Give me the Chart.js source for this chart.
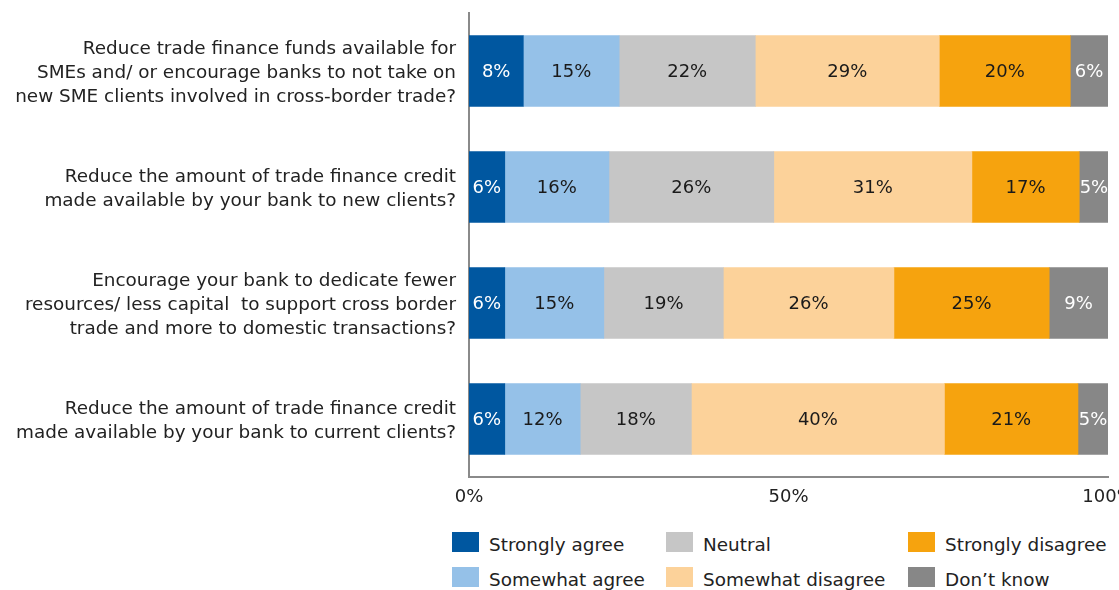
<!DOCTYPE html>
<html>
<head>
<meta charset="utf-8">
<script src="https://cdn.jsdelivr.net/npm/chart.js@4.4.1/dist/chart.umd.min.js"></script>
<style>
  html, body { margin: 0; padding: 0; background: #fff; overflow: hidden; }
  body { width: 1119px; height: 590px; position: relative; font-family: 'DejaVu Sans', sans-serif; }
  #wrap { position: absolute; left: 0; top: 0; width: 1130px; height: 520px; }
  #legend { position: absolute; left: 0; top: 0; }
  .lg-item { position: absolute; display: flex; align-items: center; font-size: 18.4px; color: #222; white-space: nowrap; height: 20px; }
  .lg-item span.txt { position: relative; top: 2px; }
  .lg-box { width: 27px; height: 20px; margin-right: 10px; }
</style>
</head>
<body>
<div id="wrap"><canvas id="chart"></canvas></div>
<div id="legend"></div>
<script>
// ============ Data ============
const questions = [
  ['Reduce trade finance funds available for', 'SMEs and/ or encourage banks to not take on', 'new SME clients involved in cross-border trade?'],
  ['Reduce the amount of trade finance credit', 'made available by your bank to new clients?'],
  ['Encourage your bank to dedicate fewer', 'resources/ less capital  to support cross border', 'trade and more to domestic transactions?'],
  ['Reduce the amount of trade finance credit', 'made available by your bank to current clients?'],
];

const answers = ['Strongly agree', 'Somewhat agree', 'Neutral', 'Somewhat disagree', 'Strongly disagree', 'Don\u2019t know'];
const answerColors = ['#0057a0', '#95c1e8', '#c6c6c6', '#fcd29a', '#f6a30e', '#878787'];
const labelColors = ['#ffffff', '#1a1a1a', '#1a1a1a', '#1a1a1a', '#1a1a1a', '#ffffff'];

// bar lengths (share of respondents, %)
const stronglyAgree    = [8.5, 5.6, 5.6, 5.6];
const somewhatAgree    = [15.0, 16.3, 15.5, 11.8];
const neutral          = [21.3, 25.8, 18.7, 17.4];
const somewhatDisagree = [28.8, 31.0, 26.7, 39.6];
const stronglyDisagree = [20.5, 16.8, 24.3, 20.9];
const dontKnow         = [5.9, 4.6, 9.2, 4.7];

// printed labels (rounded as published)
const stronglyAgreeLbl    = [8, 6, 6, 6];
const somewhatAgreeLbl    = [15, 16, 15, 12];
const neutralLbl          = [22, 26, 19, 18];
const somewhatDisagreeLbl = [29, 31, 26, 40];
const stronglyDisagreeLbl = [20, 17, 25, 21];
const dontKnowLbl         = [6, 5, 9, 5];

const xTicks = [0, 50, 100];

const seriesValues = [stronglyAgree, somewhatAgree, neutral, somewhatDisagree, stronglyDisagree, dontKnow];
const seriesLabels = [stronglyAgreeLbl, somewhatAgreeLbl, neutralLbl, somewhatDisagreeLbl, stronglyDisagreeLbl, dontKnowLbl];

const FONT = "'DejaVu Sans', sans-serif";

// ============ Plugins ============
const barLabels = {
  id: 'barLabels',
  afterDatasetsDraw(chart) {
    const ctx = chart.ctx;
    ctx.save();
    ctx.font = `18px ${FONT}`;
    ctx.textAlign = 'center';
    ctx.textBaseline = 'middle';
    chart.data.datasets.forEach((ds, di) => {
      const meta = chart.getDatasetMeta(di);
      meta.data.forEach((bar, i) => {
        const p = bar.getCenterPoint();
        ctx.fillStyle = labelColors[di];
        ctx.fillText(seriesLabels[di][i] + '%', p.x, p.y + 1);
      });
    });
    ctx.restore();
  }
};

// ============ Chart ============
const ctx = document.getElementById('chart').getContext('2d');
new Chart(ctx, {
  type: 'bar',
  data: {
    labels: questions,
    datasets: answers.map((name, i) => ({
      label: name,
      data: seriesValues[i],
      backgroundColor: answerColors[i],
      borderWidth: 0,
      barThickness: 71,
    })),
  },
  options: {
    indexAxis: 'y',
    responsive: true,
    maintainAspectRatio: false,
    animation: false,
    layout: { padding: { top: 13, left: 0, right: 22, bottom: 0 } },
    plugins: { legend: { display: false }, tooltip: { enabled: false } },
    scales: {
      x: {
        stacked: true,
        min: 0,
        max: 100,
        afterBuildTicks: s => { s.ticks = xTicks.map(v => ({ value: v })); },
        grid: { display: false, drawTicks: false },
        border: { display: true, color: '#8a8a8a', width: 2 },
        ticks: {
          padding: 10,
          color: '#222',
          font: { family: FONT, size: 18 },
          callback: v => v + '%',
        },
        afterFit: s => { s.height = 43; s.paddingLeft = 0; s.paddingRight = 0; },
      },
      y: {
        stacked: true,
        grid: { display: false, drawTicks: false },
        border: { display: true, color: '#8a8a8a', width: 2 },
        ticks: {
          padding: 13,
          labelOffset: 2,
          color: '#222',
          font: { family: FONT, size: 18.4, lineHeight: 1.31 },
        },
        afterFit: s => { s.width = 469; s.paddingTop = 0; s.paddingBottom = 0; },
      },
    },
  },
  plugins: [barLabels],
});

// ============ Legend ============
const legendCols = [452, 666, 908];
const legendRows = [532, 567];
const legendEl = document.getElementById('legend');
answers.forEach((name, i) => {
  const item = document.createElement('div');
  item.className = 'lg-item';
  item.style.left = legendCols[Math.floor(i / 2)] + 'px';
  item.style.top = legendRows[i % 2] + 'px';
  item.innerHTML = `<span class="lg-box" style="background:${answerColors[i]}"></span><span class="txt">${name}</span>`;
  legendEl.appendChild(item);
});
</script>
</body>
</html>
